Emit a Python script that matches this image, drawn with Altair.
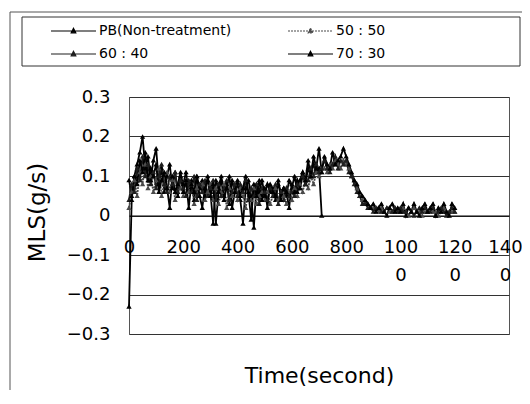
import altair as alt
import pandas as pd

series_names = ["PB(Non-treatment)", "50 : 50", "60 : 40", "70 : 30"]

times_pb = list(range(0, 711, 10))
times = list(range(0, 1201, 10))

pb = [
    0.09, 0.05, 0.10, 0.13, 0.16, 0.20, 0.12, 0.15, 0.09, 0.14,
    0.17, 0.08, 0.12, 0.06, 0.10, 0.13, 0.07, 0.11, 0.05, 0.10,
    0.08, 0.11, 0.06, 0.09, 0.04, 0.10, 0.07, 0.09, 0.05, 0.10,
    0.06, -0.02, 0.09, 0.07, 0.10, 0.05, 0.08, 0.03, 0.09, 0.06,
    0.08, 0.04, -0.02, 0.07, 0.09, 0.05, -0.03, 0.08, 0.06, 0.09,
    0.05, 0.08, 0.06, 0.07, 0.04, 0.08, 0.06, 0.07, 0.05, 0.09,
    0.07, 0.10, 0.06, 0.09, 0.11, 0.08, 0.12, 0.10, 0.13, 0.11,
    0.12, 0.00,
]

s5050 = [
    0.02, 0.06, 0.09, 0.05, 0.11, 0.08, 0.13, 0.07, 0.10, 0.06,
    0.09, 0.12, 0.05, 0.08, 0.11, 0.06, 0.09, 0.04, 0.08, 0.07,
    0.05, 0.09, 0.06, 0.08, 0.03, 0.07, 0.05, 0.08, 0.04, 0.06,
    0.08, 0.04, 0.07, 0.03, 0.06, 0.08, 0.02, 0.07, 0.05, 0.06,
    0.04, 0.07, 0.05, 0.02, 0.06, 0.04, 0.07, 0.03, 0.05, 0.06,
    0.04, 0.06, 0.03, 0.05, 0.07, 0.04, 0.06, 0.05, 0.03, 0.06,
    0.04, 0.07, 0.05, 0.08, 0.06, 0.09, 0.07, 0.10, 0.08, 0.11,
    0.10, 0.11, 0.12, 0.11, 0.13, 0.12, 0.14, 0.13, 0.12, 0.14,
    0.13, 0.12, 0.10, 0.09, 0.07, 0.05, 0.04, 0.03, 0.03, 0.02,
    0.02, 0.02, 0.01, 0.02, 0.01, 0.02, 0.01, 0.01, 0.02, 0.01,
    0.01, 0.02, 0.01, 0.00, 0.01, 0.02, 0.01, 0.01, 0.00, 0.01,
    0.01, 0.02, 0.01, 0.01, 0.00, 0.01, 0.02, 0.01, 0.01, 0.01,
    0.01,
]

s6040 = [
    0.04, 0.08, 0.06, 0.12, 0.09, 0.15, 0.10, 0.13, 0.08, 0.11,
    0.07, 0.10, 0.13, 0.08, 0.06, 0.10, 0.08, 0.11, 0.06, 0.09,
    0.07, 0.05, 0.09, 0.06, 0.10, 0.04, 0.08, 0.06, 0.09, 0.05,
    0.07, 0.09, 0.04, 0.08, 0.05, 0.07, 0.09, 0.04, 0.06, 0.08,
    0.05, 0.08, 0.06, 0.09, 0.04, 0.07, 0.05, 0.08, 0.03, 0.07,
    0.06, 0.04, 0.07, 0.05, 0.08, 0.03, 0.06, 0.04, 0.07, 0.05,
    0.06, 0.05, 0.08, 0.07, 0.10, 0.08, 0.09, 0.12, 0.10, 0.13,
    0.11, 0.12, 0.14, 0.12, 0.11, 0.13, 0.15, 0.12, 0.14, 0.13,
    0.14, 0.11, 0.10, 0.08, 0.06, 0.05, 0.03, 0.03, 0.02, 0.02,
    0.01, 0.02, 0.02, 0.01, 0.01, 0.02, 0.02, 0.01, 0.02, 0.01,
    0.02, 0.01, 0.01, 0.02, 0.01, 0.00, 0.01, 0.02, 0.01, 0.02,
    0.01, 0.01, 0.02, 0.00, 0.01, 0.02, 0.01, 0.00, 0.01, 0.02,
    0.01,
]

s7030 = [
    -0.23, 0.04, 0.10, 0.08, 0.14, 0.11, 0.16, 0.09, 0.12, 0.10,
    0.13, 0.06, 0.09, 0.11, 0.07, 0.02, 0.10, 0.06, 0.08, 0.11,
    0.06, 0.09, 0.02, 0.08, 0.06, 0.10, 0.05, 0.02, 0.07, 0.09,
    0.05, 0.08, -0.02, 0.06, 0.09, 0.04, 0.07, 0.10, 0.02, 0.06,
    0.09, 0.05, 0.07, 0.10, 0.06, -0.01, 0.08, 0.05, 0.09, 0.04,
    0.07, 0.02, 0.08, 0.06, 0.05, 0.09, 0.04, 0.07, 0.06, 0.02,
    0.08, 0.06, 0.09, 0.07, 0.11, 0.09, 0.14, 0.10, 0.15, 0.12,
    0.17, 0.11, 0.15, 0.13, 0.12, 0.16, 0.13, 0.14, 0.15, 0.17,
    0.15, 0.13, 0.11, 0.09, 0.08, 0.06, 0.05, 0.04, 0.03, 0.02,
    0.03, 0.01, 0.02, 0.03, 0.01, 0.00, 0.02, 0.03, 0.01, 0.02,
    0.01, 0.03, 0.00, 0.02, 0.01, 0.03, 0.01, 0.00, 0.02, 0.03,
    0.01, 0.02, 0.03, 0.00, 0.02, 0.01, 0.03, 0.01, 0.00, 0.03,
    0.02,
]

x_ticks = [0, 200, 400, 600, 800, 1000, 1200, 1400]
y_ticks = [-0.3, -0.2, -0.1, 0, 0.1, 0.2, 0.3]

rows = []
for name, ts, vs in [
    (series_names[0], times_pb, pb),
    (series_names[1], times, s5050),
    (series_names[2], times, s6040),
    (series_names[3], times, s7030),
]:
    for t, v in zip(ts, vs):
        rows.append({"Time": t, "MLS": v, "Series": name})
df = pd.DataFrame(rows)

FONT = "DejaVu Sans"

color_scale = alt.Scale(domain=series_names,
                        range=["#000000", "#4a4a4a", "#1e1e1e", "#000000"])
dash_scale = alt.Scale(domain=series_names,
                       range=[[1, 0], [2, 1], [1, 0], [1, 0]])

sym_path = "M-1,0L1,0M0,-0.12L0.1,0.08L-0.1,0.08Z"
legend = alt.Legend(
    title=None, orient="none", direction="horizontal", legendX=-79,
    legendY=-74, columns=2, columnPadding=55, rowPadding=7,
    symbolType=sym_path, symbolSize=2025, symbolStrokeWidth=1.2,
    symbolFillColor="black", symbolOffset=0,
    labelFont=FONT, labelFontSize=14, labelColor="black", labelOffset=2,
    padding=0, clipHeight=16,
)

x_axis = alt.Axis(
    values=x_ticks, offset=-118.5, title="Time(second)", titleFont=FONT,
    titleFontSize=22, titleFontWeight="normal", titleColor="black",
    titleY=167, titleBaseline="alphabetic",
    labelExpr="datum.value >= 1000 ? [format(floor(datum.value/10),'d'), '0'] : format(datum.value,'d')",
    labelFont=FONT, labelFontSize=18, labelColor="black", labelPadding=23,
    labelLineHeight=28, labelFlush=False, labelOverlap=False, ticks=False,
    labelOffset=alt.condition("datum.value == 1400", alt.value(-4), alt.value(0)),
    grid=False, domainColor="black", domainWidth=1,
)
y_axis = alt.Axis(
    values=y_ticks, title="MLS(g/s)", titleFont=FONT, titleFontSize=23,
    titleFontWeight="normal", titleColor="black", titleX=-92, titleY=115,
    titleAngle=270, titleAlign="center", titleBaseline="middle",
    labelExpr="datum.value == 0 ? '0' : format(datum.value, '.1f')",
    labelFont=FONT, labelFontSize=18, labelColor="black", labelPadding=19,
    ticks=False, domain=False, grid=True, gridColor="#333333", gridWidth=1,
)

lines = alt.Chart(df).mark_line(
    strokeWidth=1.8,
    point=alt.OverlayMarkDef(shape="triangle-up", size=28, filled=True),
).encode(
    x=alt.X("Time:Q", scale=alt.Scale(domain=[0, 1400], nice=False), axis=x_axis),
    y=alt.Y("MLS:Q", scale=alt.Scale(domain=[-0.3, 0.3], nice=False), axis=y_axis),
    color=alt.Color("Series:N", scale=color_scale, legend=legend),
    strokeDash=alt.StrokeDash("Series:N", scale=dash_scale, legend=legend),
)

frame_data = alt.Data(values=[{"k": 1}])
outer = alt.Chart(frame_data).mark_rect(
    fill=None, fillOpacity=0, stroke="#555555", strokeWidth=1
).encode(
    x=alt.value(-119), x2=alt.value(420), y=alt.value(-85), y2=alt.value(330)
)
legend_box = alt.Chart(frame_data).mark_rect(
    fill=None, fillOpacity=0, stroke="#333333", strokeWidth=1
).encode(
    x=alt.value(-107), x2=alt.value(391), y=alt.value(-80), y2=alt.value(-31)
)

chart = alt.layer(outer, legend_box, lines).properties(
    width=380, height=237,
    autosize=alt.AutoSizeParams(type="none"),
    padding={"left": 121, "top": 89, "right": 13, "bottom": 56},
    background="white",
).configure_view(stroke="#555555", strokeWidth=1)

chart.save("out.html", embed_options={"renderer": "svg", "actions": False})
